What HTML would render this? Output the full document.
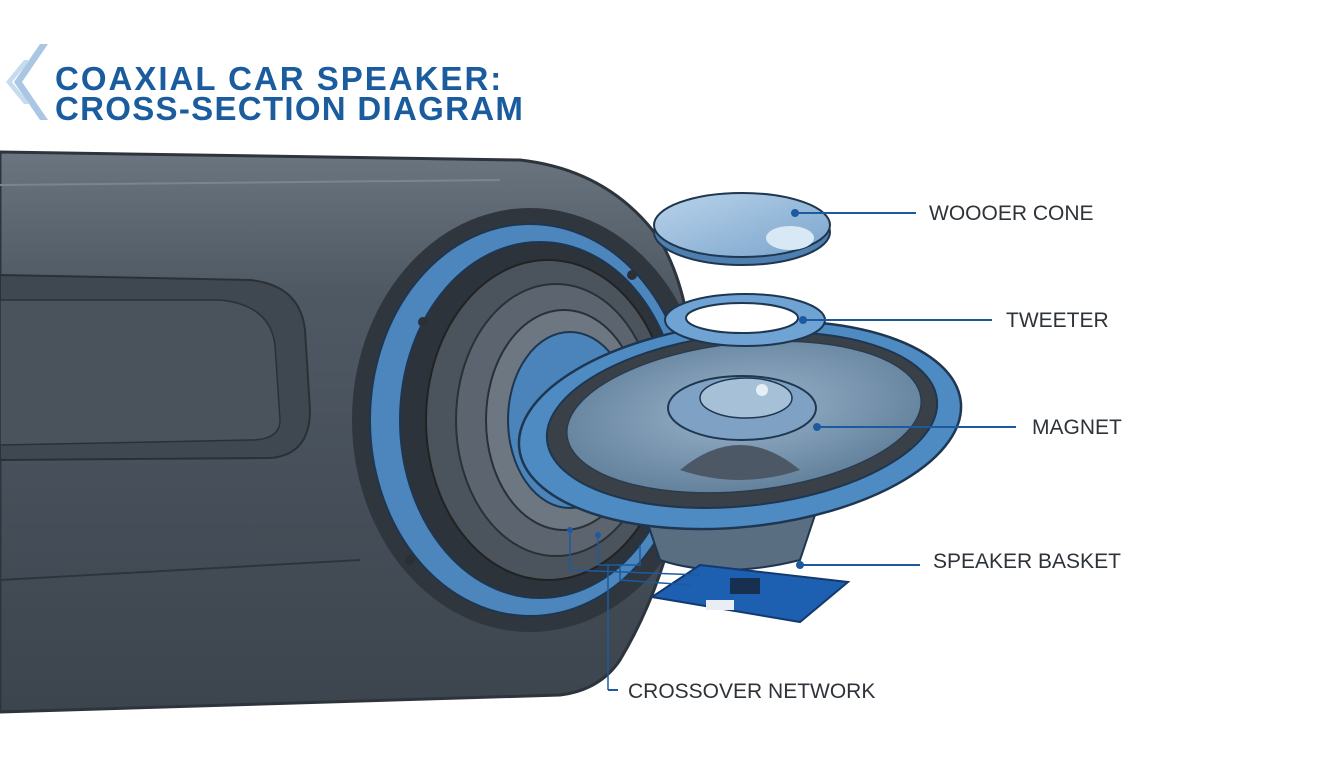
<!DOCTYPE html>
<html><head><meta charset="utf-8"><style>
html,body{margin:0;padding:0;background:#fff;}
svg{display:block;}
text{font-family:"Liberation Sans",sans-serif;}
</style></head><body>
<svg width="1344" height="768" viewBox="0 0 1344 768" xmlns="http://www.w3.org/2000/svg">
<defs>
<linearGradient id="door" x1="0" y1="0" x2="0" y2="1">
<stop offset="0" stop-color="#6b7580"/><stop offset="0.25" stop-color="#4f5964"/><stop offset="1" stop-color="#3c444d"/>
</linearGradient>
<radialGradient id="cone" cx="0.5" cy="0.45" r="0.6">
<stop offset="0" stop-color="#9ab4cc"/><stop offset="1" stop-color="#5f7d98"/>
</radialGradient>
<linearGradient id="disc" x1="0" y1="0" x2="1" y2="1">
<stop offset="0" stop-color="#b9d3ea"/><stop offset="1" stop-color="#7aa4cc"/>
</linearGradient>
</defs>
<path d="M48 44 L22 82 L48 120 L40 120 L14 82 L40 44Z" fill="#a9c6e2"/>
<path d="M30 60 L12 82 L30 104 L24 104 L6 82 L24 60Z" fill="#c7dbee"/>
<text x="55" y="90" font-size="33" font-weight="bold" fill="#1a5c9e" letter-spacing="2">COAXIAL CAR SPEAKER:</text>
<text x="55" y="120" font-size="33" font-weight="bold" fill="#1a5c9e" letter-spacing="1.3">CROSS-SECTION DIAGRAM</text>
<path d="M0 152 L520 160 Q610 170 660 240 Q700 310 690 420 Q680 560 620 660 Q600 690 560 695 L0 712Z" fill="url(#door)" stroke="#2e343b" stroke-width="3"/>
<path d="M0 185 L500 180" stroke="#7b858f" stroke-width="2" fill="none"/>
<path d="M0 275 L250 280 Q300 285 305 330 L310 410 Q310 455 270 458 L0 460Z" fill="#3f4750" stroke="#2a3036" stroke-width="2"/>
<path d="M0 300 L220 300 Q270 305 275 345 L280 420 Q280 440 250 440 L0 445Z" fill="#4a535c" stroke="#2a3036" stroke-width="1.5"/>
<path d="M0 580 L360 560" stroke="#2e343b" stroke-width="2"/>
<ellipse cx="530" cy="420" rx="178" ry="212" fill="#2f363e"/>
<ellipse cx="530" cy="420" rx="160" ry="196" fill="#4d86bd" stroke="#1f3650" stroke-width="2"/>
<ellipse cx="540" cy="420" rx="140" ry="178" fill="#2d333a" stroke="#1f3650" stroke-width="2"/>
<ellipse cx="548" cy="420" rx="122" ry="160" fill="#4b535c" stroke="#222" stroke-width="2"/>
<ellipse cx="556" cy="420" rx="100" ry="136" fill="#5c656f" stroke="#2a3036" stroke-width="2"/>
<ellipse cx="564" cy="420" rx="78" ry="110" fill="#6d7782" stroke="#2a3036" stroke-width="2"/>
<ellipse cx="570" cy="420" rx="62" ry="88" fill="#4b84bb" stroke="#1f3650" stroke-width="2"/>
<circle cx="423" cy="322" r="5" fill="#2a3036"/><circle cx="632" cy="275" r="5" fill="#2a3036"/><circle cx="410" cy="560" r="5" fill="#2a3036"/>
<path d="M640 500 L660 560 Q720 580 800 560 L820 500Z" fill="#5a6e82" stroke="#1f3650" stroke-width="2"/>
<ellipse cx="740" cy="425" rx="222" ry="102" transform="rotate(-6 740 425)" fill="#4e8bc3" stroke="#1f3650" stroke-width="2.5"/>
<ellipse cx="742" cy="420" rx="196" ry="86" transform="rotate(-6 742 420)" fill="#3a4048" stroke="#1f3650" stroke-width="2"/>
<ellipse cx="744" cy="417" rx="178" ry="74" transform="rotate(-6 744 417)" fill="url(#cone)" stroke="#2a3b4d" stroke-width="1.5"/>
<path d="M680 470 Q740 420 800 470 Q740 490 680 470Z" fill="#4c5866"/>
<ellipse cx="742" cy="408" rx="74" ry="32" fill="#7fa2c4" stroke="#1f3650" stroke-width="2"/>
<ellipse cx="746" cy="398" rx="46" ry="20" fill="#a6c0d8" stroke="#1f3650" stroke-width="1.5"/>
<circle cx="762" cy="390" r="6" fill="#e6eef6"/>
<ellipse cx="745" cy="320" rx="80" ry="26" fill="#6fa3d3" stroke="#1f3650" stroke-width="2"/>
<ellipse cx="742" cy="318" rx="56" ry="15" fill="#fff" stroke="#1f3650" stroke-width="2"/>
<ellipse cx="742" cy="232" rx="88" ry="33" fill="#4e7fae" stroke="#1f3650" stroke-width="2"/>
<ellipse cx="742" cy="225" rx="88" ry="32" fill="url(#disc)" stroke="#1f3650" stroke-width="2"/>
<ellipse cx="790" cy="238" rx="24" ry="12" fill="#d8e8f5"/>
<path d="M652 597 L700 565 L848 582 L800 622Z" fill="#1d5fb0" stroke="#123a6e" stroke-width="2"/>
<rect x="730" y="578" width="30" height="16" fill="#17304f"/>
<rect x="706" y="600" width="28" height="10" fill="#e8eef4"/>
<g stroke="#1c5aa0" stroke-width="1.5" fill="none">
<path d="M570 530 L570 570 L700 575"/><path d="M598 535 L598 565 L640 565 L640 545"/>
<path d="M608 690 L608 565"/><path d="M620 565 L620 580 L690 585"/>
</g>
<g stroke="#1c5aa0" stroke-width="2">
<line x1="795" y1="213" x2="916" y2="213"/>
<line x1="803" y1="320" x2="992" y2="320"/>
<line x1="817" y1="427" x2="1016" y2="427"/>
<line x1="800" y1="565" x2="920" y2="565"/>
<line x1="608" y1="690" x2="618" y2="690"/>
</g>
<g fill="#1c5aa0"><circle cx="795" cy="213" r="4"/><circle cx="803" cy="320" r="4"/><circle cx="817" cy="427" r="4"/><circle cx="800" cy="565" r="4"/><circle cx="570" cy="530" r="3"/><circle cx="598" cy="535" r="3"/></g>
<g font-size="21" fill="#2d3338">
<text x="929" y="220">WOOOER CONE</text>
<text x="1006" y="327">TWEETER</text>
<text x="1032" y="434">MAGNET</text>
<text x="933" y="568">SPEAKER BASKET</text>
<text x="628" y="698">CROSSOVER NETWORK</text>
</g>
</svg>
</body></html>
